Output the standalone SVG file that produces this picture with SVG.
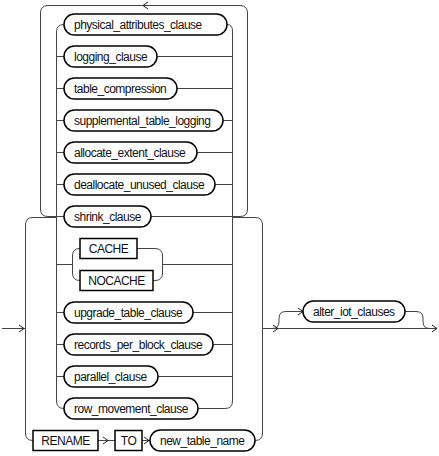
<svg xmlns="http://www.w3.org/2000/svg" width="439" height="456" viewBox="0 0 439 456">
<style>
.ln{fill:none;stroke:#444;stroke-width:1}
.ar{fill:none;stroke:#222;stroke-width:1}
.nt{fill:#fff;stroke:#000;stroke-width:1.5}
text{font-family:"Liberation Sans",Arial,sans-serif;font-size:12px;letter-spacing:-0.5px;fill:#111}
.m{text-anchor:middle}
</style>
<rect width="439" height="456" fill="#fff"/>
<g id="connectors">
<path class="ln" d="M64,24.5 Q56.5,24.5 56.5,32 V401 Q56.5,408.5 64,408.5"/>
<path class="ln" d="M56.5,56.5H64M56.5,88.5H64M56.5,120.5H64M56.5,152.5H64M56.5,184.5H64M56.5,216.5H64M56.5,312.5H64M56.5,344.5H64M56.5,376.5H64"/>
<path class="ln" d="M227,24.5 Q232.5,24.5 232.5,31 V401 Q232.5,408.5 225,408.5 H198"/>
<path class="ln" d="M157,56.5H232.5M177,88.5H232.5M223,120.5H232.5M197,152.5H232.5M215,184.5H232.5M151,216.5H232.5M193,312.5H232.5M213,344.5H232.5M158,376.5H232.5"/>
<path class="ln" d="M56.5,264.5H72.5M80,248.5 Q72.5,248.5 72.5,256 V273 Q72.5,280.5 80,280.5"/>
<path class="ln" d="M137,248.5H155 Q162.5,248.5 162.5,256 V273 Q162.5,280.5 155,280.5 H153M162.5,264.5H232.5"/>
<path class="ln" d="M232.5,216.5 H240 Q247.5,216.5 247.5,209 V13 Q247.5,5.5 240,5.5 H48 Q40.5,5.5 40.5,13 V209 Q40.5,216.5 48,216.5 H56.5"/>
<path class="ln" d="M56.5,217.5 H33 Q25.5,217.5 25.5,225 V433 Q25.5,440.5 33,440.5"/>
<path class="ln" d="M232.5,217.5 H255 Q262.5,217.5 262.5,225 V433 Q262.5,440.5 255,440.5"/>
<path class="ln" d="M98,440.5H115M142,440.5H150"/>
<path class="ln" d="M2,328.5H25.5M262.5,328.5H437"/>
<path class="ln" d="M272,328.5 Q279,328.5 279,322 V318 Q279,311.5 286,311.5 H303"/>
<path class="ln" d="M405,311.5 H416 Q423,311.5 423,318 V322 Q423,328.5 430,328.5"/>
<path class="ar" d="M19,325 L24,328.5 L19,332"/>
<path class="ar" d="M148,2 L143,5.5 L148,9"/>
<path class="ar" d="M103,437 L108,440.5 L103,444"/>
<path class="ar" d="M144,437 L149,440.5 L144,444"/>
<path class="ar" d="M273,325 L278,328.5 L273,332"/>
<path class="ar" d="M298,308 L303,311.5 L298,315"/>
<path class="ar" d="M432,325 L437,328.5 L432,332"/>
</g>
<g id="physical_attributes_clause"><rect class="nt" x="64" y="14" width="163" height="21" rx="10.5"/><text x="74" y="28.5">physical_attributes_clause</text></g>
<g id="logging_clause"><rect class="nt" x="64" y="46" width="93" height="21" rx="10.5"/><text x="74" y="60.5">logging_clause</text></g>
<g id="table_compression"><rect class="nt" x="64" y="78" width="113" height="21" rx="10.5"/><text x="74" y="92.5">table_compression</text></g>
<g id="supplemental_table_logging"><rect class="nt" x="64" y="110" width="159" height="21" rx="10.5"/><text x="74" y="124.5">supplemental_table_logging</text></g>
<g id="allocate_extent_clause"><rect class="nt" x="64" y="142" width="133" height="21" rx="10.5"/><text x="74" y="156.5">allocate_extent_clause</text></g>
<g id="deallocate_unused_clause"><rect class="nt" x="64" y="174" width="151" height="21" rx="10.5"/><text x="74" y="188.5">deallocate_unused_clause</text></g>
<g id="shrink_clause"><rect class="nt" x="64" y="206" width="87" height="21" rx="10.5"/><text x="74" y="220.5">shrink_clause</text></g>
<g id="CACHE"><rect class="nt" x="80" y="238.5" width="57" height="20"/><text class="m" x="108.5" y="252.5">CACHE</text></g>
<g id="NOCACHE"><rect class="nt" x="80" y="270.5" width="73" height="20"/><text class="m" x="116.5" y="284.5">NOCACHE</text></g>
<g id="upgrade_table_clause"><rect class="nt" x="64" y="302" width="129" height="21" rx="10.5"/><text x="74" y="316.5">upgrade_table_clause</text></g>
<g id="records_per_block_clause"><rect class="nt" x="64" y="334" width="149" height="21" rx="10.5"/><text x="74" y="348.5">records_per_block_clause</text></g>
<g id="parallel_clause"><rect class="nt" x="64" y="366" width="94" height="21" rx="10.5"/><text x="74" y="380.5">parallel_clause</text></g>
<g id="row_movement_clause"><rect class="nt" x="64" y="398" width="134" height="21" rx="10.5"/><text x="74" y="412.5">row_movement_clause</text></g>
<g id="RENAME"><rect class="nt" x="33" y="430.5" width="65" height="20"/><text class="m" x="65.5" y="444.5">RENAME</text></g>
<g id="TO"><rect class="nt" x="115" y="430.5" width="27" height="20"/><text class="m" x="128.5" y="444.5">TO</text></g>
<g id="new_table_name"><rect class="nt" x="150" y="430" width="105" height="21" rx="10.5"/><text x="160" y="444.5">new_table_name</text></g>
<g id="alter_iot_clauses"><rect class="nt" x="303" y="301" width="102" height="21" rx="10.5"/><text x="313" y="315.5">alter_iot_clauses</text></g>
</svg>
